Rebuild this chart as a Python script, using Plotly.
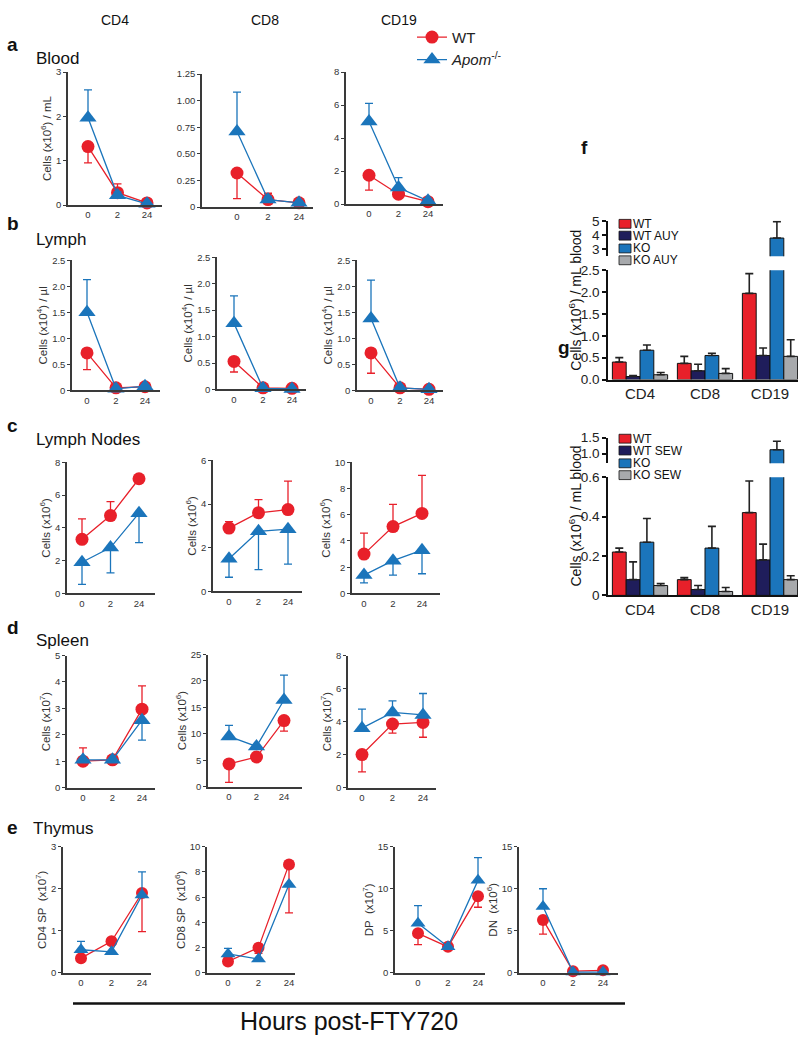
import plotly.graph_objects as go

W, H = 800, 1041
RED = "#E8202A"
BLUE = "#1B75BB"
NAVY = "#1F1D5B"
GRAY = "#A7A9AC"
AX = "#3a3a3a"
FONT = "Liberation Sans, Arial, sans-serif"

timepoints = ["0", "2", "24"]

# ---------------- a  Blood ----------------
blood_cd4_wt = [1.32, 0.28, 0.05]
blood_cd4_wt_up = [0.0, 0.20, 0.0]
blood_cd4_wt_dn = [0.37, 0.0, 0.0]
blood_cd4_ko = [1.97, 0.22, 0.03]
blood_cd4_ko_up = [0.63, 0.08, 0.02]
blood_cd4_ko_dn = [0.0, 0.0, 0.0]

blood_cd8_wt = [0.32, 0.07, 0.04]
blood_cd8_wt_up = [0.0, 0.06, 0.0]
blood_cd8_wt_dn = [0.24, 0.0, 0.0]
blood_cd8_ko = [0.71, 0.07, 0.04]
blood_cd8_ko_up = [0.37, 0.03, 0.02]
blood_cd8_ko_dn = [0.0, 0.0, 0.0]

blood_cd19_wt = [1.75, 0.60, 0.15]
blood_cd19_wt_up = [0.0, 0.0, 0.0]
blood_cd19_wt_dn = [0.90, 0.0, 0.0]
blood_cd19_ko = [5.0, 1.00, 0.20]
blood_cd19_ko_up = [1.1, 0.60, 0.10]
blood_cd19_ko_dn = [0.0, 0.0, 0.0]

# ---------------- b  Lymph ----------------
lymph_cd4_wt = [0.72, 0.05, 0.07]
lymph_cd4_wt_up = [0.0, 0.0, 0.0]
lymph_cd4_wt_dn = [0.32, 0.0, 0.0]
lymph_cd4_ko = [1.50, 0.03, 0.08]
lymph_cd4_ko_up = [0.63, 0.0, 0.0]
lymph_cd4_ko_dn = [0.0, 0.0, 0.0]

lymph_cd8_wt = [0.53, 0.03, 0.02]
lymph_cd8_wt_up = [0.0, 0.0, 0.0]
lymph_cd8_wt_dn = [0.20, 0.0, 0.0]
lymph_cd8_ko = [1.25, 0.02, 0.01]
lymph_cd8_ko_up = [0.52, 0.0, 0.0]
lymph_cd8_ko_dn = [0.0, 0.0, 0.0]

lymph_cd19_wt = [0.72, 0.05, 0.02]
lymph_cd19_wt_up = [0.0, 0.0, 0.0]
lymph_cd19_wt_dn = [0.39, 0.0, 0.0]
lymph_cd19_ko = [1.38, 0.05, 0.02]
lymph_cd19_ko_up = [0.74, 0.0, 0.0]
lymph_cd19_ko_dn = [0.0, 0.0, 0.0]

# ---------------- c  Lymph Nodes ----------------
ln_cd4_wt = [3.3, 4.75, 7.0]
ln_cd4_wt_up = [1.25, 0.85, 0.0]
ln_cd4_wt_dn = [0.0, 0.0, 0.0]
ln_cd4_ko = [1.9, 2.8, 4.9]
ln_cd4_ko_up = [0.0, 0.0, 0.0]
ln_cd4_ko_dn = [1.35, 1.55, 1.8]

ln_cd8_wt = [2.9, 3.6, 3.75]
ln_cd8_wt_up = [0.3, 0.6, 1.3]
ln_cd8_wt_dn = [0.0, 0.0, 0.0]
ln_cd8_ko = [1.5, 2.75, 2.85]
ln_cd8_ko_up = [0.0, 0.0, 0.0]
ln_cd8_ko_dn = [0.85, 1.75, 1.6]

ln_cd19_wt = [3.0, 5.1, 6.1]
ln_cd19_wt_up = [1.6, 1.7, 2.9]
ln_cd19_wt_dn = [0.0, 0.0, 0.0]
ln_cd19_ko = [1.4, 2.5, 3.3]
ln_cd19_ko_up = [0.0, 0.0, 0.0]
ln_cd19_ko_dn = [0.6, 1.1, 1.8]

# ---------------- d  Spleen ----------------
sp_cd4_wt = [1.0, 1.05, 2.97]
sp_cd4_wt_up = [0.5, 0.0, 0.88]
sp_cd4_wt_dn = [0.0, 0.0, 0.0]
sp_cd4_ko = [1.05, 1.05, 2.55]
sp_cd4_ko_up = [0.0, 0.0, 0.0]
sp_cd4_ko_dn = [0.0, 0.0, 0.75]

sp_cd8_wt = [4.3, 5.6, 12.5]
sp_cd8_wt_up = [0.0, 0.0, 0.0]
sp_cd8_wt_dn = [3.5, 0.0, 2.0]
sp_cd8_ko = [9.5, 7.6, 16.4]
sp_cd8_ko_up = [2.1, 0.0, 4.7]
sp_cd8_ko_dn = [0.0, 0.0, 0.0]

sp_cd19_wt = [2.0, 3.85, 3.95]
sp_cd19_wt_up = [0.0, 0.0, 0.0]
sp_cd19_wt_dn = [1.05, 0.55, 0.9]
sp_cd19_ko = [3.6, 4.55, 4.4]
sp_cd19_ko_up = [1.15, 0.7, 1.3]
sp_cd19_ko_dn = [0.0, 0.0, 0.0]

# ---------------- e  Thymus ----------------
th_cd4sp_wt = [0.35, 0.75, 1.9]
th_cd4sp_wt_up = [0.0, 0.0, 0.0]
th_cd4sp_wt_dn = [0.0, 0.0, 0.92]
th_cd4sp_ko = [0.55, 0.5, 1.85]
th_cd4sp_ko_up = [0.2, 0.0, 0.55]
th_cd4sp_ko_dn = [0.0, 0.0, 0.0]

th_cd8sp_wt = [0.9, 2.0, 8.6]
th_cd8sp_wt_up = [0.0, 0.0, 0.0]
th_cd8sp_wt_dn = [0.0, 0.45, 3.85]
th_cd8sp_ko = [1.5, 1.1, 7.0]
th_cd8sp_ko_up = [0.45, 0.0, 0.0]
th_cd8sp_ko_dn = [0.0, 0.0, 0.0]

th_dp_wt = [4.7, 3.1, 9.1]
th_dp_wt_up = [0.0, 0.0, 0.0]
th_dp_wt_dn = [1.35, 0.0, 1.3]
th_dp_ko = [5.9, 3.1, 11.0]
th_dp_ko_up = [2.1, 0.0, 2.7]
th_dp_ko_dn = [0.0, 0.0, 0.0]

th_dn_wt = [6.3, 0.2, 0.3]
th_dn_wt_up = [0.0, 0.0, 0.0]
th_dn_wt_dn = [1.7, 0.0, 0.0]
th_dn_ko = [7.9, 0.1, 0.1]
th_dn_ko_up = [2.1, 0.0, 0.0]
th_dn_ko_dn = [0.0, 0.0, 0.0]

# ---------------- f / g  bar charts ----------------
bar_cats = ["CD4", "CD8", "CD19"]
f_groups = ["WT", "WT AUY", "KO", "KO AUY"]
f_wt = [0.40, 0.37, 1.97]
f_wt_err = [0.10, 0.16, 0.45]
f_wtauy = [0.07, 0.20, 0.55]
f_wtauy_err = [0.02, 0.15, 0.17]
f_ko = [0.67, 0.55, 3.80]
f_ko_err = [0.12, 0.05, 1.15]
f_koauy = [0.11, 0.14, 0.53]
f_koauy_err = [0.05, 0.11, 0.38]

g_groups = ["WT", "WT SEW", "KO", "KO SEW"]
g_wt = [0.22, 0.08, 0.42]
g_wt_err = [0.02, 0.01, 0.16]
g_wtsew = [0.08, 0.03, 0.18]
g_wtsew_err = [0.09, 0.02, 0.08]
g_ko = [0.27, 0.24, 1.12]
g_ko_err = [0.12, 0.11, 0.27]
g_kosew = [0.05, 0.02, 0.08]
g_kosew_err = [0.01, 0.02, 0.02]

# ------------------------------------------------------------------
def sup(n):
    return "<sup>%s</sup>" % n

line_panels = [
    # data, ticks, ticktext, ymax, ytitle, geometry(px): axis x, first tick x, tick spacing, axis end x, y bottom, y top
    ((blood_cd4_wt, blood_cd4_wt_up, blood_cd4_wt_dn, blood_cd4_ko, blood_cd4_ko_up, blood_cd4_ko_dn),
     [0, 1, 2, 3], ["0", "1", "2", "3"], 3, "Cells (x10%s) / mL" % sup(6), (68, 88, 29.5, 162, 201, 66)),
    ((blood_cd8_wt, blood_cd8_wt_up, blood_cd8_wt_dn, blood_cd8_ko, blood_cd8_ko_up, blood_cd8_ko_dn),
     [0, 0.25, 0.5, 0.75, 1.0, 1.25], ["0", "0.25", "0.50", "0.75", "1.00", "1.25"], 1.25, "", (202, 237, 31, 313, 203, 68)),
    ((blood_cd19_wt, blood_cd19_wt_up, blood_cd19_wt_dn, blood_cd19_ko, blood_cd19_ko_up, blood_cd19_ko_dn),
     [0, 2, 4, 6, 8], ["0", "2", "4", "6", "8"], 8, "", (346, 369, 29.5, 443, 200, 66)),

    ((lymph_cd4_wt, lymph_cd4_wt_up, lymph_cd4_wt_dn, lymph_cd4_ko, lymph_cd4_ko_up, lymph_cd4_ko_dn),
     [0, 0.5, 1, 1.5, 2, 2.5], ["0", "0.5", "1.0", "1.5", "2.0", "2.5"], 2.5, "Cells (x10%s) / µl" % sup(4), (72, 87, 29, 160, 389, 257)),
    ((lymph_cd8_wt, lymph_cd8_wt_up, lymph_cd8_wt_dn, lymph_cd8_ko, lymph_cd8_ko_up, lymph_cd8_ko_dn),
     [0, 0.5, 1, 1.5, 2, 2.5], ["0", "0.5", "1.0", "1.5", "2.0", "2.5"], 2.5, "Cells (x10%s) / µl" % sup(4), (217, 234, 29, 306, 388, 254)),
    ((lymph_cd19_wt, lymph_cd19_wt_up, lymph_cd19_wt_dn, lymph_cd19_ko, lymph_cd19_ko_up, lymph_cd19_ko_dn),
     [0, 0.5, 1, 1.5, 2, 2.5], ["0", "0.5", "1.0", "1.5", "2.0", "2.5"], 2.5, "Cells (x10%s) / µl" % sup(4), (357, 371, 29, 443, 389, 257)),

    ((ln_cd4_wt, ln_cd4_wt_up, ln_cd4_wt_dn, ln_cd4_ko, ln_cd4_ko_up, ln_cd4_ko_dn),
     [0, 2, 4, 6, 8], ["0", "2", "4", "6", "8"], 8, "Cells (x10%s)" % sup(6), (67, 82, 28.5, 155, 595, 462)),
    ((ln_cd8_wt, ln_cd8_wt_up, ln_cd8_wt_dn, ln_cd8_ko, ln_cd8_ko_up, ln_cd8_ko_dn),
     [0, 2, 4, 6], ["0", "2", "4", "6"], 6, "Cells (x10%s)" % sup(6), (213, 229, 29.5, 302, 593, 460)),
    ((ln_cd19_wt, ln_cd19_wt_up, ln_cd19_wt_dn, ln_cd19_ko, ln_cd19_ko_up, ln_cd19_ko_dn),
     [0, 2, 4, 6, 8, 10], ["0", "2", "4", "6", "8", "10"], 10, "Cells (x10%s)" % sup(6), (352, 364, 29, 440, 595, 462)),

    ((sp_cd4_wt, sp_cd4_wt_up, sp_cd4_wt_dn, sp_cd4_ko, sp_cd4_ko_up, sp_cd4_ko_dn),
     [0, 1, 2, 3, 4, 5], ["0", "1", "2", "3", "4", "5"], 5, "Cells (x10%s)" % sup(7), (67, 83, 29.5, 155, 792, 658)),
    ((sp_cd8_wt, sp_cd8_wt_up, sp_cd8_wt_dn, sp_cd8_ko, sp_cd8_ko_up, sp_cd8_ko_dn),
     [0, 5, 10, 15, 20, 25], ["0", "5", "10", "15", "20", "25"], 25, "Cells (x10%s)" % sup(6), (208, 229, 27.5, 302, 791, 657)),
    ((sp_cd19_wt, sp_cd19_wt_up, sp_cd19_wt_dn, sp_cd19_ko, sp_cd19_ko_up, sp_cd19_ko_dn),
     [0, 2, 4, 6, 8], ["0", "2", "4", "6", "8"], 8, "Cells (x10%s)" % sup(7), (348, 362, 30.5, 436, 792, 658)),

    ((th_cd4sp_wt, th_cd4sp_wt_up, th_cd4sp_wt_dn, th_cd4sp_ko, th_cd4sp_ko_up, th_cd4sp_ko_dn),
     [0, 1, 2, 3], ["0", "1", "2", "3"], 3, "CD4 SP  (x10%s)" % sup(7), (63, 81, 30.5, 151, 980, 852)),
    ((th_cd8sp_wt, th_cd8sp_wt_up, th_cd8sp_wt_dn, th_cd8sp_ko, th_cd8sp_ko_up, th_cd8sp_ko_dn),
     [0, 2, 4, 6, 8, 10], ["0", "2", "4", "6", "8", "10"], 10, "CD8 SP  (x10%s)" % sup(6), (207, 228, 30.5, 295, 980, 852)),
    ((th_dp_wt, th_dp_wt_up, th_dp_wt_dn, th_dp_ko, th_dp_ko_up, th_dp_ko_dn),
     [0, 5, 10, 15], ["0", "5", "10", "15"], 15, "DP  (x10%s)" % sup(7), (395, 418, 30, 485, 980, 852)),
    ((th_dn_wt, th_dn_wt_up, th_dn_wt_dn, th_dn_ko, th_dn_ko_up, th_dn_ko_dn),
     [0, 5, 10, 15], ["0", "5", "10", "15"], 15, "DN  (x10%s)" % sup(6), (519, 543, 30, 618, 980, 852)),
]

fig = go.Figure()
layout = dict(
    width=W, height=H, autosize=False, margin=dict(l=0, r=0, t=0, b=0, pad=0),
    paper_bgcolor="white", plot_bgcolor="white",
    font=dict(family=FONT, color="#222"),
    barmode="group", bargap=0.15, bargroupgap=0.0,
    showlegend=True,
    legend=dict(x=412 / W, y=1 - 14 / H, xanchor="left", yanchor="top",
                font=dict(size=15, color="#222"), bgcolor="rgba(0,0,0,0)",
                tracegroupgap=0, itemwidth=30),
)

def ax_id(n):
    return "" if n == 1 else str(n)

n = 0
for i, (data, tv, tt, ymax, ytitle, geo) in enumerate(line_panels):
    n += 1
    s = ax_id(n)
    xs, p0, d, xe, yb, yt = geo
    wt, wt_up, wt_dn, ko, ko_up, ko_dn = data
    small = i >= 12
    layout["xaxis" + s] = dict(
        domain=[xs / W, xe / W], type="category", range=[(xs - p0) / d, (xe - p0) / d],
        showline=True, linecolor=AX, linewidth=1.5, ticks="", showgrid=False, zeroline=False,
        anchor="y" + s, tickfont=dict(size=9.5, color="#333"), fixedrange=True,
    )
    yax = dict(
        domain=[1 - yb / H, 1 - yt / H], range=[0, ymax], tickvals=tv, ticktext=tt,
        showline=True, linecolor=AX, linewidth=1.5, ticks="outside", ticklen=3, tickwidth=1,
        tickcolor=AX, showgrid=False, zeroline=False, anchor="x" + s,
        tickfont=dict(size=9.5, color="#333"), fixedrange=True,
    )
    if ytitle:
        yax["title"] = dict(text=ytitle, font=dict(size=11.5, color="#333"), standoff=2)
    layout["yaxis" + s] = yax
    msz_c, msz_t = (12, 13) if small else (13, 15)
    fig.add_trace(go.Scatter(
        x=timepoints, y=wt, mode="lines+markers", name="WT",
        line=dict(color=RED, width=1.3), marker=dict(symbol="circle", size=msz_c, color=RED),
        error_y=dict(type="data", symmetric=False, array=wt_up, arrayminus=wt_dn,
                     color=RED, thickness=1.3, width=4),
        cliponaxis=False, xaxis="x" + s, yaxis="y" + s, showlegend=(i == 0), legend="legend",
    ))
    fig.add_trace(go.Scatter(
        x=timepoints, y=ko, mode="lines+markers", name="<i>Apom</i><sup>-/-</sup>",
        line=dict(color=BLUE, width=1.3), marker=dict(symbol="triangle-up", size=msz_t, color=BLUE),
        error_y=dict(type="data", symmetric=False, array=ko_up, arrayminus=ko_dn,
                     color=BLUE, thickness=1.3, width=4),
        cliponaxis=False, xaxis="x" + s, yaxis="y" + s, showlegend=(i == 0), legend="legend",
    ))

# ---------------- bar panels ----------------
bar_colors = [RED, NAVY, BLUE, GRAY]
bar_panels = [
    (f_groups, [f_wt, f_wtauy, f_ko, f_koauy], [f_wt_err, f_wtauy_err, f_ko_err, f_koauy_err],
     dict(lower=(378, 267, [0, 2.5], [0, 0.5, 1.0, 1.5, 2.0, 2.5], ["0.0", "0.5", "1.0", "1.5", "2.0", "2.5"]),
          upper=(253, 217, [2.52, 5], [3, 4, 5], ["3", "4", "5"]))),
    (g_groups, [g_wt, g_wtsew, g_ko, g_kosew], [g_wt_err, g_wtsew_err, g_ko_err, g_kosew_err],
     dict(lower=(597, 477, [0, 0.6], [0, 0.2, 0.4, 0.6], ["0", "0.2", "0.4", "0.6"]),
          upper=(463, 437, [0.69, 1.5], [1.0, 1.5], ["1.0", "1.5"]))),
]
bx0, bx1, bc0, bsp = 608, 798, 640, 65
for groups, vals, errs, parts in bar_panels:
    for part in ("lower", "upper"):
        n += 1
        s = ax_id(n)
        yb, yt, yr, tv, tt = parts[part]
        layout["xaxis" + s] = dict(
            domain=[bx0 / W, bx1 / W], type="category", range=[(bx0 - bc0) / bsp, (bx1 - bc0) / bsp],
            showline=(part == "lower"), linecolor="#111", linewidth=1.6, ticks="",
            showticklabels=(part == "lower"), showgrid=False, zeroline=False, anchor="y" + s,
            tickfont=dict(size=15, color="#222"), fixedrange=True,
        )
        layout["yaxis" + s] = dict(
            domain=[1 - yb / H, 1 - yt / H], range=yr, tickvals=tv, ticktext=tt,
            showline=True, linecolor="#111", linewidth=1.6, ticks="outside", ticklen=4, tickwidth=1.6,
            tickcolor="#111", showgrid=False, zeroline=False, anchor="x" + s,
            tickfont=dict(size=13.5, color="#222"), fixedrange=True,
        )
        for g, v, e, c in zip(groups, vals, errs, bar_colors):
            fig.add_trace(go.Bar(
                x=bar_cats, y=v, name=g, marker=dict(color=c, line=dict(color="#111", width=1)),
                error_y=dict(type="data", symmetric=False, array=e, arrayminus=[0] * len(e),
                             color="#222", thickness=1.6, width=4),
                xaxis="x" + s, yaxis="y" + s, showlegend=False,
            ))

fig.update_layout(**layout)

# ---------------- annotations ----------------
ann = []
def txt(x, y, t, size, bold=False, anchor="left", **kw):
    ann.append(dict(x=x / W, y=1 - y / H, xref="paper", yref="paper", text=("<b>%s</b>" % t) if bold else t,
                    showarrow=False, xanchor=anchor, yanchor="middle",
                    font=dict(size=size, family=FONT, color="#111"), **kw))

for name, cx in (("CD4", 115), ("CD8", 265), ("CD19", 399)):
    txt(cx, 13, name, 14, anchor="center")
for letter, y in (("a", 38), ("b", 220), ("c", 425), ("d", 630), ("e", 832)):
    txt(5, y, letter, 19, bold=True)
for title, y, x in (("Blood", 52, 34), ("Lymph", 236, 34), ("Lymph Nodes", 439, 34), ("Spleen", 643, 34), ("Thymus", 834, 31)):
    txt(x, y, title, 17)
txt(579, 143, "f", 19, bold=True)
txt(556, 345, "g", 19, bold=True)
txt(349, 1029, "Hours post-FTY720", 25, anchor="center")

# y-titles for bar panels
for yc in (298, 517):
    ann.append(dict(x=575 / W, y=1 - yc / H, xref="paper", yref="paper", text="Cells (x10<sup>6</sup>) / mL blood",
                    textangle=-90, showarrow=False, xanchor="center", yanchor="middle",
                    font=dict(size=14, family=FONT, color="#111")))

# manual legends for bar panels
shapes = []
for groups, ys in ((f_groups, (220, 232, 245, 257)), (g_groups, (438, 450, 463, 475))):
    for g, c, y in zip(groups, bar_colors, ys):
        shapes.append(dict(type="rect", xref="paper", yref="paper", x0=619 / W, x1=631 / W,
                           y0=1 - (y + 4.5) / H, y1=1 - (y - 4.5) / H, fillcolor=c,
                           line=dict(color="#111", width=0.8)))
        txt(631, y, g, 12)

# horizontal rule above x title
shapes.append(dict(type="line", xref="paper", yref="paper", x0=73 / W, x1=625 / W,
                   y0=1 - 1011 / H, y1=1 - 1011 / H, line=dict(color="#111", width=2.5)))

fig.update_layout(annotations=ann, shapes=shapes)
fig.write_html(
    "out.html",
    config={"displayModeBar": False, "responsive": False},
    post_script=(
        "document.documentElement.style.margin='0';document.body.style.margin='0';"
        "document.body.style.padding='0';document.body.style.overflow='hidden';"
        "document.documentElement.style.overflow='hidden';"
        "var gd=document.getElementById('{plot_id}');gd.style.position='absolute';"
        "gd.style.left='0px';gd.style.top='0px';"
    ),
)
